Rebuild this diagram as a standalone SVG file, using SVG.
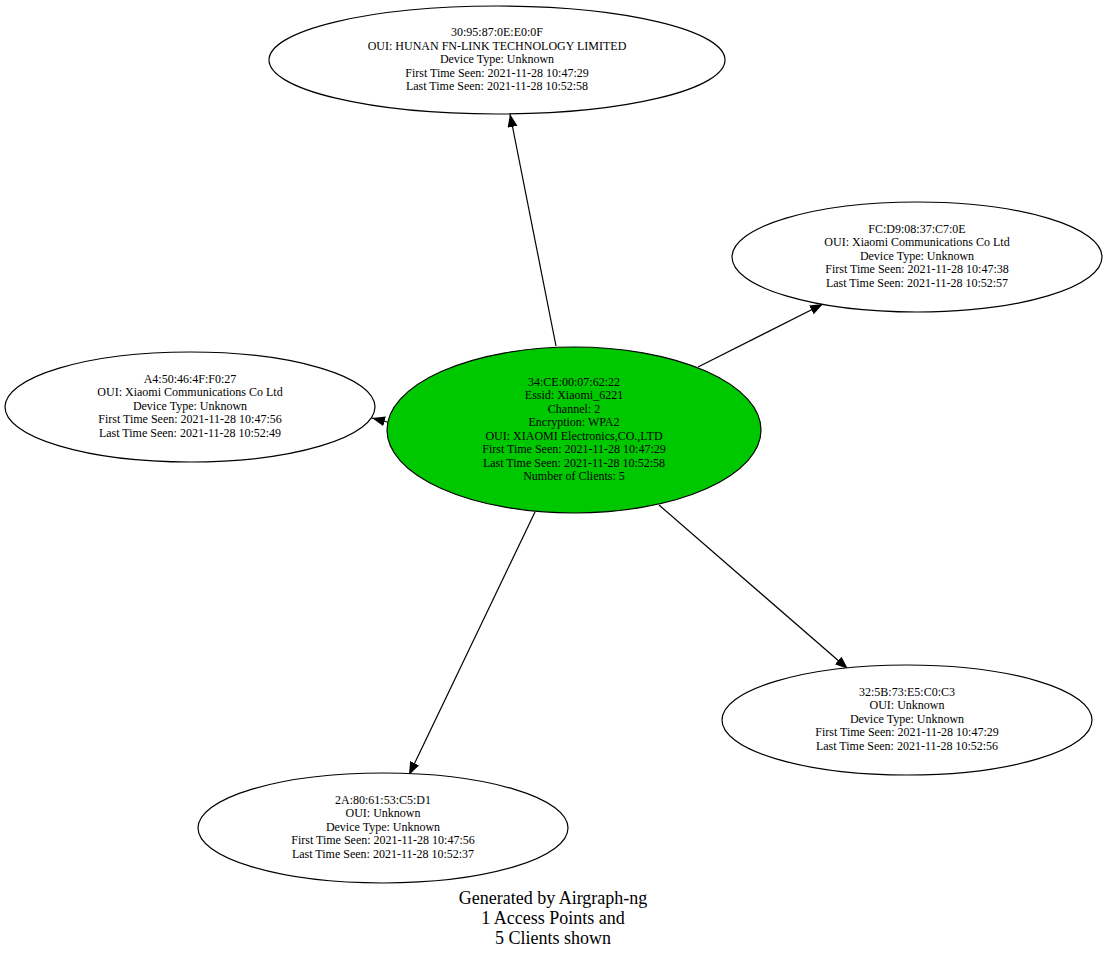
<svg xmlns="http://www.w3.org/2000/svg" width="1108" height="960" viewBox="0 0 1108 960">
<style>
.n{fill:#fff;stroke:#000;stroke-width:1.2}
.ap{fill:#00c800;stroke:#000;stroke-width:1.2}
text{font-family:"Liberation Serif",serif;font-size:12px;text-anchor:middle}
.f{font-size:18px}
.e{stroke:#000;stroke-width:1.2;fill:none;marker-end:url(#a)}
</style>
<defs><marker id="a" markerUnits="userSpaceOnUse" markerWidth="14" markerHeight="12" refX="13" refY="5" orient="auto"><path d="M0,0L13,5L0,10z" fill="#000"/></marker></defs>
<rect width="1108" height="960" fill="#fff"/>
<g id="edges">
<line class="e" x1="556" y1="346" x2="510" y2="114"/>
<line class="e" x1="698" y1="367" x2="823" y2="304"/>
<line class="e" x1="387" y1="422" x2="372" y2="418"/>
<line class="e" x1="659" y1="505" x2="848" y2="669"/>
<line class="e" x1="535" y1="512" x2="409" y2="775"/>
</g>
<g id="ap"><ellipse class="ap" cx="574" cy="430" rx="187" ry="83"/>
<text x="574" y="386">34:CE:00:07:62:22</text><text x="574" y="399">Essid: Xiaomi_6221</text><text x="574" y="413">Channel: 2</text><text x="574" y="426">Encryption: WPA2</text><text x="574" y="440">OUI: XIAOMI Electronics,CO.,LTD</text><text x="574" y="453">First Time Seen:  2021-11-28 10:47:29</text><text x="574" y="467">Last Time Seen:  2021-11-28 10:52:58</text><text x="574" y="480">Number of Clients: 5</text></g>
<g id="c1"><ellipse class="n" cx="497" cy="60" rx="228" ry="54"/>
<text x="497" y="36">30:95:87:0E:E0:0F</text><text x="497" y="50">OUI: HUNAN FN-LINK TECHNOLOGY LIMITED</text><text x="497" y="63">Device Type: Unknown</text><text x="497" y="77">First Time Seen:  2021-11-28 10:47:29</text><text x="497" y="90">Last Time Seen:  2021-11-28 10:52:58</text></g>
<g id="c2"><ellipse class="n" cx="917" cy="257" rx="185" ry="55"/>
<text x="917" y="233">FC:D9:08:37:C7:0E</text><text x="917" y="246">OUI: Xiaomi Communications Co Ltd</text><text x="917" y="260">Device Type: Unknown</text><text x="917" y="273">First Time Seen:  2021-11-28 10:47:38</text><text x="917" y="287">Last Time Seen:  2021-11-28 10:52:57</text></g>
<g id="c3"><ellipse class="n" cx="190" cy="407" rx="185" ry="55"/>
<text x="190" y="383">A4:50:46:4F:F0:27</text><text x="190" y="396">OUI: Xiaomi Communications Co Ltd</text><text x="190" y="410">Device Type: Unknown</text><text x="190" y="423">First Time Seen:  2021-11-28 10:47:56</text><text x="190" y="437">Last Time Seen:  2021-11-28 10:52:49</text></g>
<g id="c4"><ellipse class="n" cx="907" cy="720" rx="185" ry="55"/>
<text x="907" y="696">32:5B:73:E5:C0:C3</text><text x="907" y="709">OUI: Unknown</text><text x="907" y="723">Device Type: Unknown</text><text x="907" y="736">First Time Seen:  2021-11-28 10:47:29</text><text x="907" y="750">Last Time Seen:  2021-11-28 10:52:56</text></g>
<g id="c5"><ellipse class="n" cx="383" cy="828" rx="185" ry="55"/>
<text x="383" y="804">2A:80:61:53:C5:D1</text><text x="383" y="817">OUI: Unknown</text><text x="383" y="831">Device Type: Unknown</text><text x="383" y="844">First Time Seen:  2021-11-28 10:47:56</text><text x="383" y="858">Last Time Seen:  2021-11-28 10:52:37</text></g>
<g id="footer"><text class="f" x="553" y="904">Generated by Airgraph-ng</text><text class="f" x="553" y="924">1 Access Points and</text><text class="f" x="553" y="944">5 Clients shown</text></g>
</svg>
